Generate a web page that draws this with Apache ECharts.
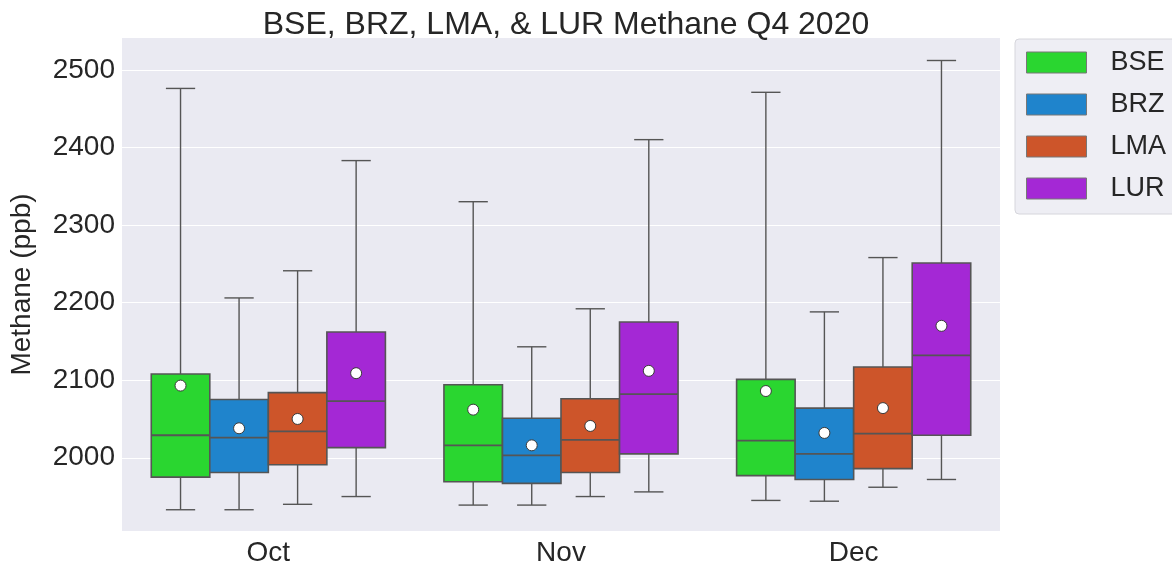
<!DOCTYPE html>
<html>
<head>
<meta charset="utf-8">
<script src="https://cdn.jsdelivr.net/npm/echarts@6/dist/echarts.min.js"></script>
<style>
  html, body { margin: 0; padding: 0; background: #fff; }
  #chart { width: 1172px; height: 567px; }
</style>
</head>
<body>
<div id="chart"></div>
<script>
var months = ['Oct', 'Nov', 'Dec'];
var sites = ['BSE', 'BRZ', 'LMA', 'LUR'];
var siteColors = ['#2ad630', '#1f84cc', '#cd552a', '#a428d5'];
var yTicks = [2000, 2100, 2200, 2300, 2400, 2500];

// each row: [low whisker, q1, median, q3, high whisker, mean], one row per month
var bse = [
    [1933, 1975, 2029, 2108, 2476, 2093],
    [1939, 1969, 2016, 2094, 2330, 2062],
    [1945, 1977, 2022, 2101, 2471, 2086]
];
var brz = [
    [1933, 1981, 2026, 2075, 2206, 2038],
    [1939, 1967, 2003, 2051, 2143, 2016],
    [1944, 1972, 2005, 2064, 2188, 2032]
];
var lma = [
    [1940, 1991, 2034, 2084, 2241, 2050],
    [1950, 1981, 2023, 2076, 2192, 2041],
    [1962, 1986, 2031, 2117, 2258, 2064]
];
var lur = [
    [1950, 2013, 2073, 2162, 2383, 2109],
    [1956, 2005, 2082, 2175, 2410, 2112],
    [1972, 2029, 2132, 2251, 2512, 2170]
];
var siteData = [bse, brz, lma, lur];

var lineColor = '#555555';
var textColor = '#262626';
var fontFamily = '"Liberation Sans", Arial, sans-serif';

function boxRenderer(hue) {
    return function (params, api) {
        var cat = api.value(0);
        var center = api.coord([cat, 2000])[0];
        var band = api.size([1, 0])[0];
        var w = band * 0.8 / sites.length;
        var cx = center + (hue - 1.5) * w;
        var yLow = api.coord([cat, api.value(1)])[1];
        var yQ1 = api.coord([cat, api.value(2)])[1];
        var yMed = api.coord([cat, api.value(3)])[1];
        var yQ3 = api.coord([cat, api.value(4)])[1];
        var yHigh = api.coord([cat, api.value(5)])[1];
        var yMean = api.coord([cat, api.value(6)])[1];
        var lineStyle = { stroke: lineColor, lineWidth: 1.4 };
        return {
            type: 'group',
            children: [
                { type: 'line', shape: { x1: cx, y1: yQ3, x2: cx, y2: yHigh }, style: lineStyle },
                { type: 'line', shape: { x1: cx, y1: yQ1, x2: cx, y2: yLow }, style: lineStyle },
                { type: 'line', shape: { x1: cx - w / 4, y1: yHigh, x2: cx + w / 4, y2: yHigh }, style: lineStyle },
                { type: 'line', shape: { x1: cx - w / 4, y1: yLow, x2: cx + w / 4, y2: yLow }, style: lineStyle },
                {
                    type: 'rect',
                    shape: { x: cx - w / 2, y: yQ3, width: w, height: yQ1 - yQ3 },
                    style: { fill: siteColors[hue], stroke: lineColor, lineWidth: 1.6 }
                },
                { type: 'line', shape: { x1: cx - w / 2, y1: yMed, x2: cx + w / 2, y2: yMed }, style: { stroke: lineColor, lineWidth: 1.8 } },
                {
                    type: 'circle',
                    shape: { cx: cx, cy: yMean, r: 5.5 },
                    style: { fill: '#ffffff', stroke: '#3a3a3a', lineWidth: 1 }
                }
            ]
        };
    };
}

var series = [];
for (var h = 0; h < sites.length; h++) {
    var rows = [];
    for (var m = 0; m < months.length; m++) {
        rows.push([m].concat(siteData[h][m]));
    }
    series.push({
        name: sites[h],
        type: 'custom',
        renderItem: boxRenderer(h),
        itemStyle: { color: siteColors[h] },
        encode: { x: 0, y: [1, 2, 3, 4, 5, 6] },
        data: rows
    });
}

var chart = echarts.init(document.getElementById('chart'));
chart.setOption({
    animation: false,
    backgroundColor: '#ffffff',
    title: {
        text: 'BSE, BRZ, LMA, & LUR Methane Q4 2020',
        left: 561,
        top: 4,
        textAlign: 'center',
        textStyle: { fontSize: 32, fontWeight: 'normal', color: textColor, fontFamily: fontFamily }
    },
    legend: {
        orient: 'vertical',
        left: 1015,
        top: 39,
        padding: [10, 40, 12, 11],
        itemWidth: 60,
        itemHeight: 21,
        itemGap: 15,
        backgroundColor: '#eeeef4',
        borderColor: '#d6d6dc',
        borderWidth: 1,
        borderRadius: 4,
        textStyle: { fontSize: 27, color: textColor, fontFamily: fontFamily, padding: [0, 0, 0, 19] },
        data: sites.map(function (s, i) {
            return { name: s, icon: 'rect', itemStyle: { color: siteColors[i], borderColor: '#777', borderWidth: 1 } };
        })
    },
    grid: {
        left: 122,
        right: 172,
        top: 38,
        bottom: 34,
        show: true,
        backgroundColor: '#eaeaf2',
        borderWidth: 0
    },
    xAxis: {
        type: 'category',
        data: months,
        axisLine: { show: false },
        axisTick: { show: false },
        splitLine: { show: false },
        axisLabel: { fontSize: 28, color: textColor, fontFamily: fontFamily, margin: 8 }
    },
    yAxis: {
        type: 'value',
        min: 1905.6,
        max: 2541,
        name: 'Methane (ppb)',
        nameLocation: 'middle',
        nameGap: 86,
        nameTextStyle: { fontSize: 28, color: textColor, fontFamily: fontFamily },
        axisLine: { show: false },
        axisTick: { show: false, customValues: yTicks },
        axisLabel: {
            customValues: yTicks,
            fontSize: 28,
            color: textColor,
            fontFamily: fontFamily,
            margin: 7,
            formatter: function (v) { return String(v); }
        },
        splitLine: { show: true, lineStyle: { color: '#ffffff', width: 1.2 } }
    },
    series: series
});
</script>
</body>
</html>
